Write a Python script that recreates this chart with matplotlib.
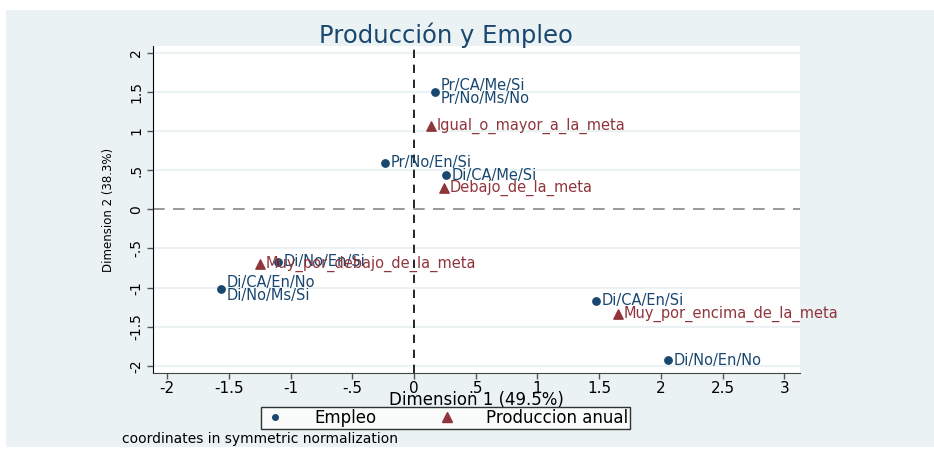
import matplotlib
matplotlib.use("Agg")
import matplotlib.pyplot as plt
from matplotlib.patches import Rectangle
from matplotlib.lines import Line2D

# Data
emp_labels = ["Pr/CA/Me/Si\nPr/No/Ms/No", "Pr/No/En/Si", "Di/CA/Me/Si", "Di/No/En/Si",
              "Di/CA/En/No\nDi/No/Ms/Si", "Di/CA/En/Si", "Di/No/En/No"]
emp_x = [0.17, -0.235, 0.26, -1.10, -1.56, 1.475, 2.06]
emp_y = [1.50, 0.595, 0.434, -0.67, -1.02, -1.17, -1.93]

prod_labels = ["Igual_o_mayor_a_la_meta", "Debajo_de_la_meta",
               "Muy_por_debajo_de_la_meta", "Muy_por_encima_de_la_meta"]
prod_x = [0.14, 0.24, -1.25, 1.65]
prod_y = [1.06, 0.27, -0.70, -1.34]

xticks = [-2, -1.5, -1, -0.5, 0, 0.5, 1, 1.5, 2, 2.5, 3]
xticklabels = ["-2", "-1.5", "-1", "-.5", "0", ".5", "1", "1.5", "2", "2.5", "3"]
yticks = [-2, -1.5, -1, -0.5, 0, 0.5, 1, 1.5, 2]
yticklabels = ["-2", "-1.5", "-1", "-.5", "0", ".5", "1", "1.5", "2"]

C_EMP = "#1a476f"
C_PROD = "#90353b"
BG = "#eaf2f3"

plt.rcParams['font.family'] = ['DejaVu Sans']
fig = plt.figure(figsize=(9.34, 4.54), dpi=100)
fig.patch.set_facecolor("white")
fig.patches.append(Rectangle((6/934, 1-447/454), 928/934, 437/454, transform=fig.transFigure,
                             facecolor=BG, edgecolor="none", zorder=-10))

ax = fig.add_axes([153/934, 1-373/454, 647/934, 327/454])
ax.set_facecolor("white")
ax.set_xlim(-2.115, 3.128)
ax.set_ylim(-2.09, 2.086)

for yv in yticks:
    if yv != 0:
        ax.axhline(yv, color=BG, lw=1.5, zorder=0)
ax.axhline(0, color="#888888", lw=1.2, ls=(0, (7, 5)), zorder=1)
ax.axvline(0, color="black", lw=1.2, ls=(0, (5, 4)), zorder=1)

ax.scatter(emp_x, emp_y, s=28, marker="o", color=C_EMP, zorder=3)
ax.scatter(prod_x, prod_y, s=45, marker="^", color=C_PROD, zorder=3)

for lab, x, y in zip(emp_labels, emp_x, emp_y):
    ax.annotate(lab, (x, y), xytext=(4, 0), textcoords="offset points",
                ha="left", va="center", fontsize=10.5, color=C_EMP, linespacing=0.82, zorder=4)
for lab, x, y in zip(prod_labels, prod_x, prod_y):
    ax.annotate(lab, (x, y), xytext=(4, 0), textcoords="offset points",
                ha="left", va="center", fontsize=10.5, color=C_PROD, zorder=4)

ax.set_xticks(xticks)
ax.set_xticklabels(xticklabels, fontsize=11)
ax.set_yticks(yticks)
ax.set_yticklabels(yticklabels, fontsize=10, rotation=90, va="center")
ax.tick_params(axis="both", direction="out", length=4, width=1, color="#555555", pad=3)
ax.tick_params(axis="x", pad=2)
for s in ["top", "right"]:
    ax.spines[s].set_visible(False)
ax.spines["left"].set_color("black")
ax.spines["bottom"].set_color("#444444")

ax.set_xlabel("Dimension 1 (49.5%)", fontsize=12, labelpad=-4)
ax.set_ylabel("Dimension 2 (38.3%)", fontsize=8.5, labelpad=10)
fig.text(446/934, 1-35/454, "Producción y Empleo", fontsize=17.5, color=C_EMP,
         ha="center", va="center")

handles = [Line2D([], [], marker="o", ls="none", color=C_EMP, markersize=4),
           Line2D([], [], marker="^", ls="none", color=C_PROD, markersize=7)]
leg = fig.legend(handles, ["Empleo", "Produccion anual"], loc="center",
                 bbox_to_anchor=((259+632)/2/934, 1-418/454), ncol=2, fontsize=12,
                 frameon=True, fancybox=False, edgecolor="black", columnspacing=3.5,
                 handletextpad=1.6, borderpad=0.1, handlelength=1.5)
leg.get_frame().set_linewidth(1)

fig.text(122/934, 1-439/454, "coordinates in symmetric normalization", fontsize=10,
         ha="left", va="center", color="black")

fig.savefig("out.png", dpi=100, facecolor=fig.get_facecolor())
